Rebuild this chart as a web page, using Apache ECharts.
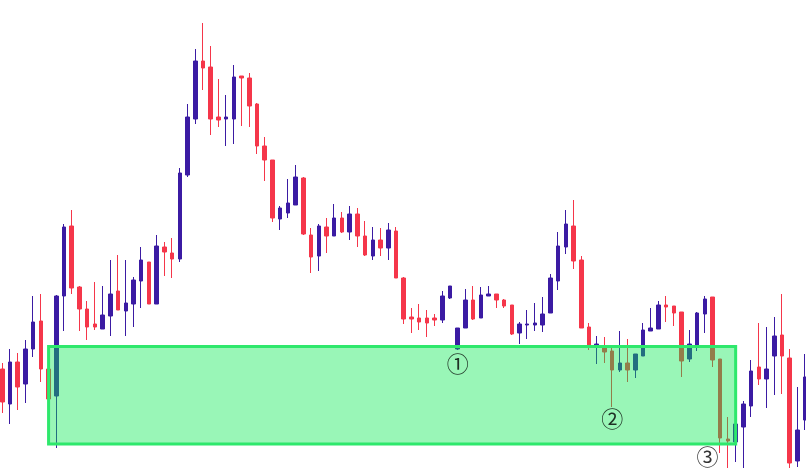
<!DOCTYPE html>
<html>
<head>
<meta charset="utf-8">
<script src="https://cdn.jsdelivr.net/npm/echarts@6/dist/echarts.min.js"></script>
<style>html,body{margin:0;padding:0;background:#fff}#c{width:806px;height:468px}</style>
</head>
<body>
<div id="c"></div>
<script>
const opens  = [99,64,106,84,119,147,99,72,172,242,181,159,144,139,152,177,157,164,187,206,164,221,215,209,293,349,407,401,351,349,349,392,390,364,322,308,249,255,263,290,233,212,241,232,250,236,254,232,212,228,220,237,190,151,150,150,150,148,170,119,140,168,150,172,174,168,163,135,143,143,143,155,187,221,242,208,141,122,121,117,98,105,98,112,137,139,163,162,156,109,123,154,171,109,29,26,41,62,101,89,112,133,110,7,48];
const closes = [66,106,81,119,146,99,69,172,241,180,159,141,141,153,174,158,165,188,208,164,222,216,209,295,351,407,400,349,348,351,391,390,362,322,308,250,260,265,291,234,211,242,232,250,236,254,232,213,228,220,238,190,149,149,146,145,148,172,182,140,168,149,173,174,168,162,134,144,144,145,154,190,222,244,207,140,121,124,116,98,105,98,114,138,140,163,161,155,107,124,155,169,108,30,27,44,64,97,89,99,132,112,5,38,91];
const lows   = [55,44,58,65,111,86,68,20,137,174,137,128,138,139,132,158,132,141,160,164,164,192,190,206,291,344,378,333,341,322,324,342,341,314,287,246,238,250,263,233,195,197,215,232,235,228,221,212,208,212,208,190,144,135,138,131,142,145,169,118,140,148,150,172,160,160,133,124,129,137,136,155,178,214,199,140,118,104,105,61,96,86,90,112,137,139,146,142,91,106,117,135,101,15,-4,6,-4,51,83,60,73,74,-4,1,38];
const highs  = [105,119,115,128,172,174,100,173,244,258,182,167,186,182,208,213,208,191,221,206,233,226,230,300,364,419,445,422,389,373,403,392,395,365,331,308,262,289,303,291,240,244,250,264,256,262,260,247,241,240,245,241,191,160,164,158,154,177,182,140,179,182,181,182,174,169,163,146,158,165,171,194,236,258,268,212,145,132,131,120,137,129,114,145,160,167,172,162,156,138,156,172,171,109,51,44,67,108,145,141,151,174,119,81,114];
const categories = opens.map((_, i) => String(i + 1));
const zoneStart = 6, zoneEnd = 95, zoneTop = 121.5, zoneBottom = 24;
const markIndex = [59, 79, 92];
const markValue = [104, 49, 11];
const markText  = ['①', '②', '③'];

const candleData = opens.map((o, i) => [o, closes[i], lows[i], highs[i]]);
const markData = markIndex.map((x, i) => ({
  value: [x, markValue[i], markText[i]],
  label: i === 2 ? { offset: [-5, 0] } : {}
}));
const chart = echarts.init(document.getElementById('c'));
chart.setOption({
  animation: false,
  backgroundColor: '#ffffff',
  grid: { left: -1.6, width: 810.6, top: 0, height: 468, containLabel: false, outerBoundsMode: 'none' },
  xAxis: { type: 'category', data: categories, show: false, boundaryGap: true },
  yAxis: { type: 'value', min: 0, max: 468, show: false },
  series: [
    {
      type: 'candlestick',
      data: candleData,
      barWidth: 4,
      z: 2,
      itemStyle: {
        color: '#3b1ba3', color0: '#f5364a',
        borderColor: '#3b1ba3', borderColor0: '#f5364a',
        borderWidth: 1
      },
      markArea: {
        silent: true,
        z: 3,
        itemStyle: { color: 'rgba(0,232,74,0.4)', borderColor: '#2ee86c', borderWidth: 3 },
        data: [[{ coord: [zoneStart, zoneTop] }, { coord: [zoneEnd, zoneBottom] }]]
      }
    },
    {
      type: 'scatter',
      data: markData,
      symbolSize: 0,
      z: 5,
      silent: true,
      label: {
        show: true, position: 'inside',
        formatter: p => p.value[2],
        color: '#000', fontSize: 22, fontFamily: 'Noto Sans CJK JP'
      }
    }
  ]
});
</script>
</body>
</html>
